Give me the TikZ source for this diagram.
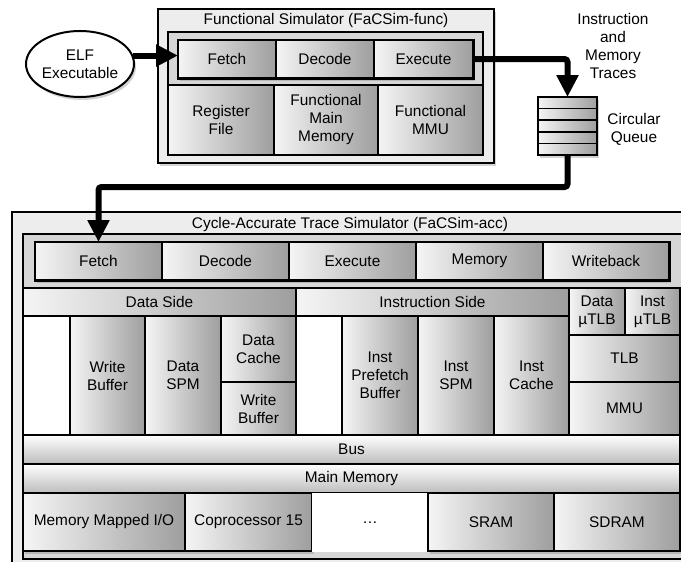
\documentclass[tikz,border=0pt]{standalone}
\usepackage{fontspec}
\setmainfont{Liberation Sans}
\usetikzlibrary{arrows.meta,shapes.geometric,shadows}
\tikzset{
  shad/.style={drop shadow={opacity=0.35, shadow xshift=2pt, shadow yshift=-3pt}},
  outerbox/.style={draw, line width=1.6pt, fill=black!7, shad},
  innerbox/.style={draw, line width=1.6pt, fill=black!16},
  grpbg/.style={fill=black!20, shad},
  grpline/.style={line width=2.6pt},
  cell/.style={draw, line width=1.4pt, left color=black!4, right color=black!38, align=center, inner sep=0pt, outer sep=0pt},
  bar/.style={draw, line width=1.4pt, top color=white, bottom color=black!26, align=center, inner sep=0pt, outer sep=0pt},
  sidebox/.style={draw, line width=1.4pt, fill=white, inner sep=0pt, outer sep=0pt, shad},
  blank/.style={fill=white, inner sep=0pt},
  elfshape/.style={ellipse, draw, line width=2pt, fill=white, minimum width=108pt, minimum height=66pt, align=center, inner sep=0pt, shad},
  flow/.style={line width=6pt, -{Triangle[width=21pt,length=22pt]}, rounded corners=3pt},
  lbl/.style={align=center, inner sep=0pt},
  slotline/.style={line width=1.6pt}
}
\newcommand\cellat[7]{\node[#1, minimum width={#5pt-#3pt}, minimum height={#6pt-#4pt}] (#2) at ({(#3+#5)/2},{(#4+#6)/2}) {#7};}
\begin{document}
\begin{tikzpicture}[x=1pt,y=-1pt,font=\fontsize{15.4}{18}\selectfont]
\clip (0,0) rectangle (681,562);
% ELF
\node[elfshape] (elf) at (80,64) {ELF\\Executable};
% Functional simulator
\cellat{outerbox}{fsim}{158}{9}{494}{163}{}
\node[lbl] (ftitle) at (326,21) {Functional Simulator (FaCSim-func)};
\cellat{innerbox}{finner}{168}{32}{483}{155}{}
\cellat{grpbg}{fpipe}{178}{40}{473}{78}{}
\cellat{cell}{ffetch}{178}{40}{276}{78}{Fetch}
\cellat{cell}{fdecode}{276}{40}{374}{78}{Decode}
\cellat{cell}{fexec}{374}{40}{473}{78}{Execute}
\draw[grpline] (fpipe.north west) rectangle (fpipe.south east);
\cellat{cell}{freg}{168}{85}{274}{155}{Register\\File}
\cellat{cell}{fmem}{274}{85}{378}{155}{Functional\\Main\\Memory}
\cellat{cell}{fmmu}{378}{85}{483}{155}{Functional\\MMU}
% Queue
\cellat{cell,shad}{queue}{538}{97}{597}{155}{}
\foreach \k in {1,2,3,4} \draw[slotline] (538,{97+\k*11.6}) -- (597,{97+\k*11.6});
\draw[line width=1.8pt] (queue.north west) rectangle (queue.south east);
\node[lbl] (trlabel) at (613,46) {Instruction\\and\\Memory\\Traces};
\node[lbl] (cqlabel) at (634,129) {Circular\\Queue};
% Cycle-accurate simulator
\cellat{outerbox}{asim}{12}{212}{700}{590}{}
\node[lbl] (atitle) at (350,225) {Cycle-Accurate Trace Simulator (FaCSim-acc)};
\cellat{innerbox}{ainner}{23}{234}{690}{559}{}
\cellat{grpbg}{apipe}{35}{242}{669}{280}{}
\cellat{cell}{afetch}{35}{242}{162}{280}{Fetch}
\cellat{cell}{adecode}{162}{242}{289}{280}{Decode}
\cellat{cell}{aexec}{289}{242}{416}{280}{Execute}
\cellat{cell}{amem}{416}{242}{543}{280}{Memory}
\cellat{cell}{awb}{543}{242}{669}{280}{Writeback}
\draw[grpline] (apipe.north west) rectangle (apipe.south east);
% Data side
\cellat{sidebox}{dside}{23}{288}{296}{435}{}
\cellat{cell}{dhead}{23}{288}{296}{316}{Data Side}
\cellat{cell}{dwb}{70}{316}{145}{435}{Write\\Buffer}
\cellat{cell}{dspm}{145}{316}{221}{435}{Data\\SPM}
\cellat{cell}{dcache}{221}{316}{296}{382}{Data\\Cache}
\cellat{cell}{dwb2}{221}{382}{296}{435}{Write\\Buffer}
% Instruction side
\cellat{sidebox}{iside}{296}{288}{569}{435}{}
\cellat{cell}{ihead}{296}{288}{569}{316}{Instruction Side}
\cellat{cell}{ipf}{342}{316}{418}{435}{Inst\\Prefetch\\Buffer}
\cellat{cell}{ispm}{418}{316}{494}{435}{Inst\\SPM}
\cellat{cell}{icache}{494}{316}{569}{435}{Inst\\Cache}
% TLBs
\cellat{cell}{dutlb}{569}{288}{625}{335}{Data\\µTLB}
\cellat{cell}{iutlb}{625}{288}{680}{335}{Inst\\µTLB}
\cellat{cell}{tlb}{569}{335}{680}{382}{TLB}
\cellat{cell}{mmu}{569}{382}{680}{435}{MMU}
% Bus and memory
\cellat{bar}{bus}{23}{435}{680}{464}{Bus}
\cellat{bar}{mainmem}{23}{464}{680}{493}{Main Memory}
\cellat{cell,shad}{mmio}{23}{493}{185}{551}{Memory Mapped I/O}
\cellat{cell,shad}{cp15}{185}{493}{312}{551}{Coprocessor 15}
\cellat{blank}{dots}{312}{493}{428}{552}{…}
\cellat{cell,shad}{sram}{428}{493}{554}{551}{SRAM}
\cellat{cell,shad}{sdram}{554}{493}{680}{551}{SDRAM}
% Connectors
\draw[flow] (elf.9) -- (elf.9 -| ffetch.west);
\draw[flow] (fexec.east) -| (queue.north);
\coordinate (qturn) at (567.5,187);
\draw[flow] (queue.south) -- (qturn) -| (afetch.north);
\end{tikzpicture}
\end{document}
